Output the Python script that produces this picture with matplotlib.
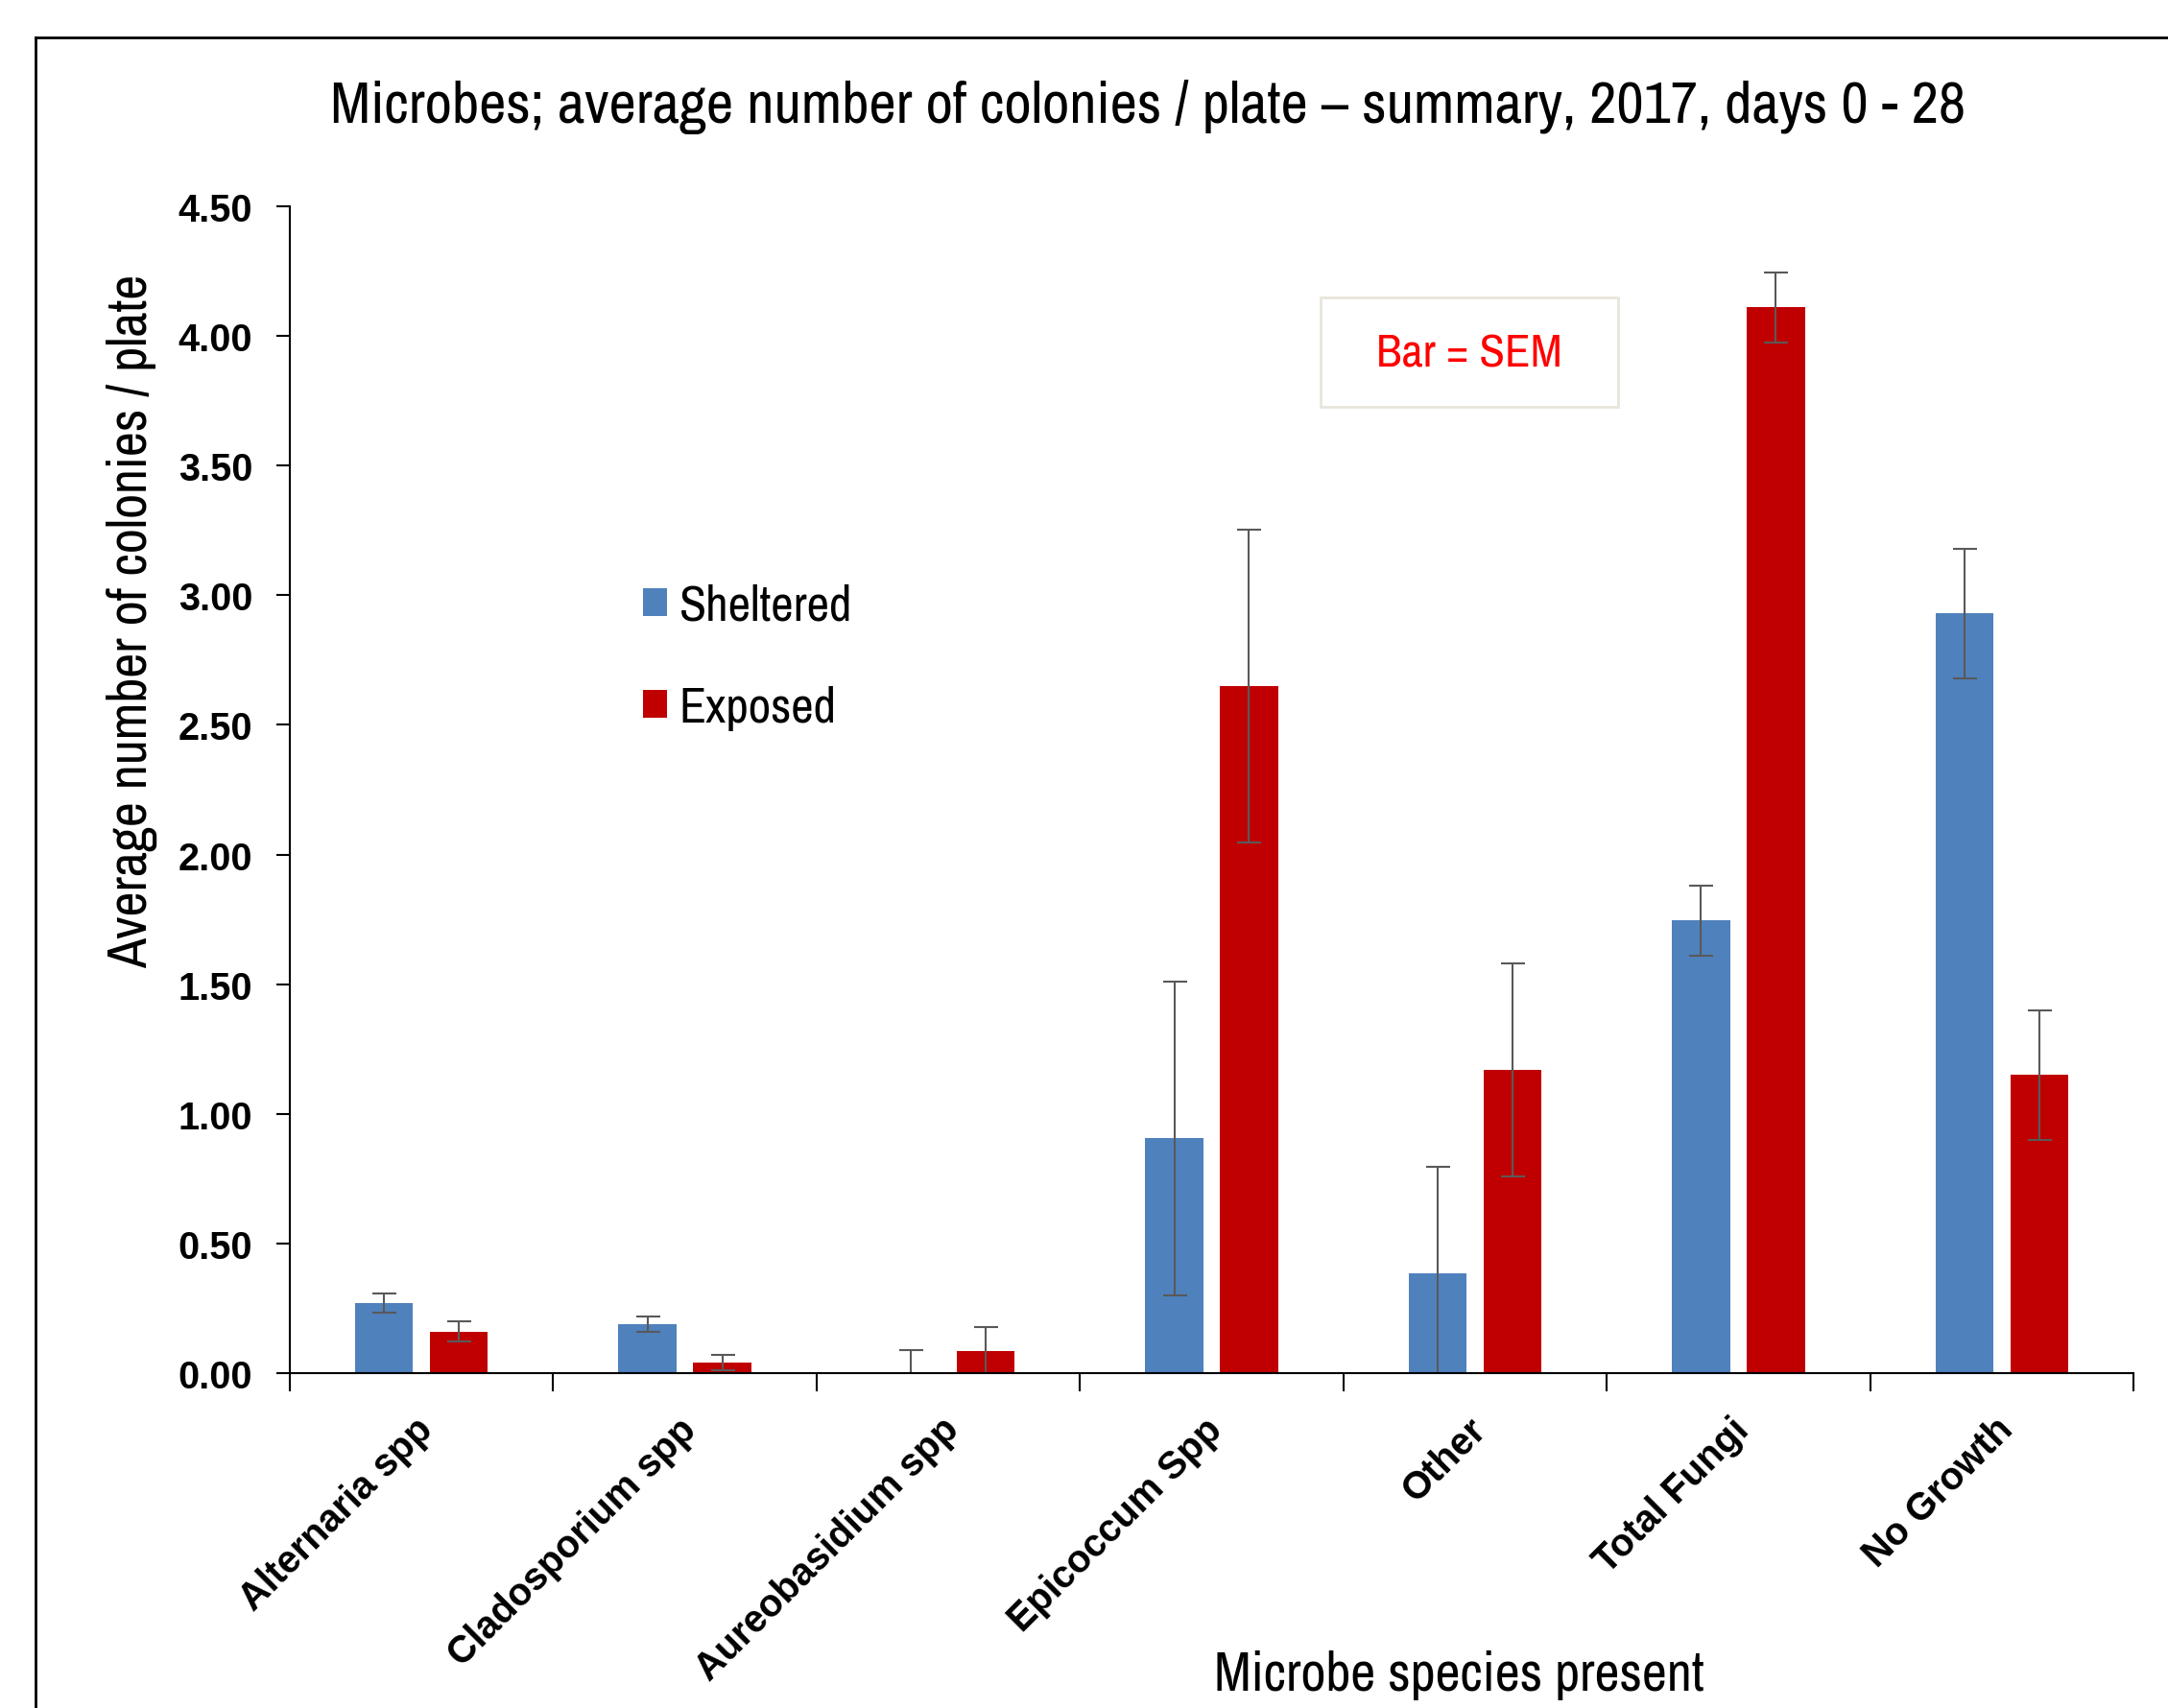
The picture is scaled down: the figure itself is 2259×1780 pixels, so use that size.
import numpy as np
import matplotlib
matplotlib.use("Agg")
import matplotlib.pyplot as plt
from matplotlib import transforms
from matplotlib.patches import Rectangle

# data
categories = ["Alternaria spp", "Cladosporium spp", "Aureobasidium spp",
              "Epicoccum Spp", "Other", "Total Fungi", "No Growth"]
sheltered = [0.27, 0.19, 0.0, 0.905, 0.385, 1.745, 2.93]
sheltered_sem = [0.037, 0.03, 0.09, 0.605, 0.41, 0.135, 0.25]
exposed = [0.16, 0.04, 0.085, 2.65, 1.17, 4.11, 1.15]
exposed_sem = [0.038, 0.03, 0.093, 0.603, 0.41, 0.135, 0.25]
yticks = np.arange(0, 4.51, 0.5)

narrow = ["Archivo Narrow", "Roboto Condensed", "DejaVu Sans"]
wide = ["Liberation Sans", "DejaVu Sans"]
plt.rcParams['font.family'] = narrow

blue = "#4F81BD"
red = "#C00000"
errc = "#595959"

W, H = 2259, 1781
fig = plt.figure(figsize=(W / 100, H / 100), dpi=100)
ax = fig.add_axes([302 / W, 1 - 1432 / H, (2223 - 302) / W, (1432 - 216) / H])

x = np.arange(len(categories))
w = 0.22
off = 0.142
ekw = dict(ecolor=errc, elinewidth=1.5, capsize=9, capthick=1.5)
ax.bar(x - off, sheltered, w, color=blue, yerr=sheltered_sem, error_kw=ekw,
       label="Sheltered", zorder=2)
ax.bar(x + off, exposed, w, color=red, yerr=exposed_sem, error_kw=ekw,
       label="Exposed", zorder=2)

ax.set_xlim(-0.5, len(categories) - 0.5)
ax.set_ylim(0, 4.5)
ax.set_yticks(yticks)
ax.set_yticklabels([f"{v:.2f}" for v in yticks], fontsize=28.5,
                   fontweight='bold', family=wide)
ax.tick_params(axis='y', direction='out', length=10, width=1.5, pad=18)

ax.set_xticks(x)
ax.set_xticklabels(categories, rotation=45, ha='right', rotation_mode='anchor',
                   fontsize=28.5, fontweight='bold', family=wide)
ax.tick_params(axis='x', length=0, pad=28)
shift = transforms.ScaledTranslation(-8 / 100, 0, fig.dpi_scale_trans)
for lab in ax.get_xticklabels():
    lab.set_transform(lab.get_transform() + shift)
ax.set_xticks(np.arange(-0.5, len(categories), 1.0), minor=True)
ax.tick_params(axis='x', which='minor', direction='out', length=14, width=1.5)

for s in ['top', 'right']:
    ax.spines[s].set_visible(False)
for s in ['left', 'bottom']:
    ax.spines[s].set_linewidth(1.5)

fig.text(137 / W, 1 - 647 / H, "Average number of colonies / plate", fontsize=41,
         rotation=90, ha='center', va='center')
fig.text(1520 / W, 1 - 1746 / H, "Microbe species present", fontsize=41,
         ha='center', va='center')
fig.text(1196 / W, 1 - 111 / H,
         "Microbes; average number of colonies / plate \u2013 summary, 2017, days 0 - 28",
         fontsize=44.5, ha='center', va='center')

ax.legend(loc='center left', bbox_to_anchor=((670 - 302) / 1921, 0.614),
          frameon=False, borderpad=0, borderaxespad=0,
          fontsize=37, handlelength=0.48, handleheight=0.48,
          handletextpad=0.25, labelspacing=1.15)

fig.add_artist(Rectangle((1376 / W, 1 - 425 / H), 310 / W, 114 / H,
                         transform=fig.transFigure, fc='white', ec='#E8E6DC', lw=2))
fig.text(1531 / W, 1 - 369 / H, "Bar = SEM", color="#FF0000", fontsize=35,
         ha='center', va='center')

# outer frame
fig.add_artist(plt.Line2D([37 / W, 37 / W], [0, 1 - 40 / H],
                          transform=fig.transFigure, color='black', lw=2))
fig.add_artist(plt.Line2D([37 / W, 1], [1 - 40 / H, 1 - 40 / H],
                          transform=fig.transFigure, color='black', lw=2))

fig.savefig("out.png", dpi=100)
